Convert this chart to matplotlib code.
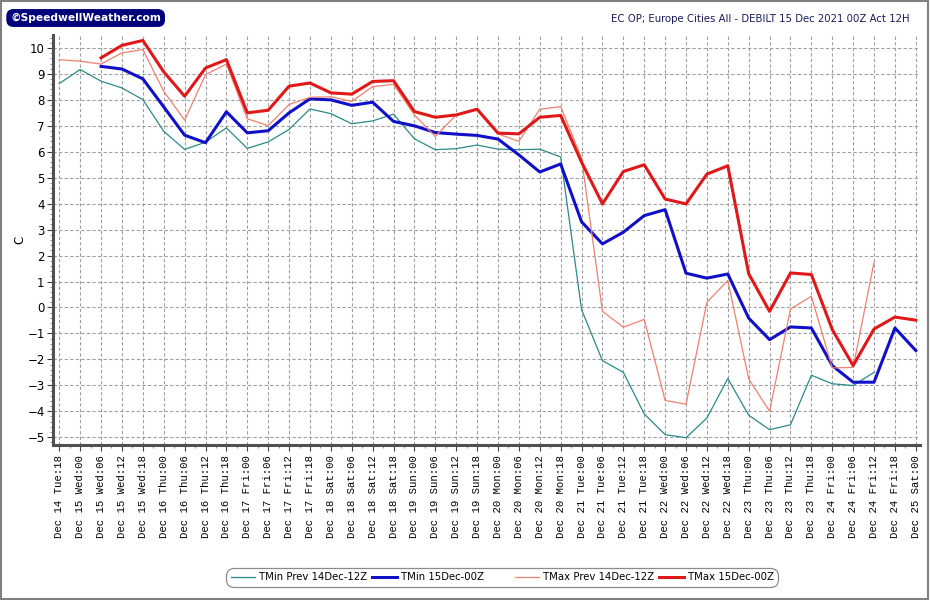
import matplotlib

matplotlib.use("Agg")

import matplotlib.pyplot as plt
import numpy as np
from matplotlib.patches import Rectangle
from matplotlib.ticker import MultipleLocator

time_labels = [
    "Dec 14 Tue:18", "Dec 15 Wed:00", "Dec 15 Wed:06", "Dec 15 Wed:12", "Dec 15 Wed:18",
    "Dec 16 Thu:00", "Dec 16 Thu:06", "Dec 16 Thu:12", "Dec 16 Thu:18",
    "Dec 17 Fri:00", "Dec 17 Fri:06", "Dec 17 Fri:12", "Dec 17 Fri:18",
    "Dec 18 Sat:00", "Dec 18 Sat:06", "Dec 18 Sat:12", "Dec 18 Sat:18",
    "Dec 19 Sun:00", "Dec 19 Sun:06", "Dec 19 Sun:12", "Dec 19 Sun:18",
    "Dec 20 Mon:00", "Dec 20 Mon:06", "Dec 20 Mon:12", "Dec 20 Mon:18",
    "Dec 21 Tue:00", "Dec 21 Tue:06", "Dec 21 Tue:12", "Dec 21 Tue:18",
    "Dec 22 Wed:00", "Dec 22 Wed:06", "Dec 22 Wed:12", "Dec 22 Wed:18",
    "Dec 23 Thu:00", "Dec 23 Thu:06", "Dec 23 Thu:12", "Dec 23 Thu:18",
    "Dec 24 Fri:00", "Dec 24 Fri:06", "Dec 24 Fri:12", "Dec 24 Fri:18",
    "Dec 25 Sat:00",
]

# previous run: Dec 14 Tue:18 .. Dec 24 Fri:12
tmin_prev = [
    8.63, 9.17, 8.72, 8.46, 8.01, 6.79, 6.09, 6.37, 6.92, 6.13,
    6.38, 6.86, 7.65, 7.47, 7.08, 7.19, 7.45, 6.50, 6.08, 6.12,
    6.26, 6.10, 6.08, 6.10, 5.80, -0.08, -2.05, -2.50, -4.10, -4.90,
    -5.02, -4.26, -2.74, -4.15, -4.71, -4.52, -2.61, -2.94, -3.01, -2.50,
]
tmax_prev = [
    9.55, 9.49, 9.38, 9.81, 9.94, 8.33, 7.22, 8.97, 9.38, 7.27,
    7.01, 7.82, 8.10, 8.12, 7.94, 8.51, 8.60, 7.42, 6.59, 7.42,
    7.64, 6.69, 6.40, 7.64, 7.74, 5.75, -0.15, -0.76, -0.46, -3.58,
    -3.73, 0.20, 1.04, -2.75, -4.00, -0.06, 0.43, -2.33, -2.31, 1.74,
]
# current run: Dec 15 Wed:06 .. Dec 25 Sat:00
tmin_cur = [
    9.29, 9.19, 8.81, 7.73, 6.64, 6.35, 7.54, 6.73, 6.81, 7.50,
    8.04, 8.00, 7.79, 7.91, 7.17, 7.00, 6.74, 6.68, 6.63, 6.49,
    5.88, 5.22, 5.53, 3.30, 2.45, 2.90, 3.54, 3.77, 1.32, 1.13,
    1.29, -0.41, -1.24, -0.75, -0.79, -2.24, -2.88, -2.88, -0.79, -1.66,
]
tmax_cur = [
    9.62, 10.10, 10.29, 9.08, 8.14, 9.23, 9.55, 7.50, 7.60, 8.53,
    8.65, 8.27, 8.22, 8.71, 8.74, 7.55, 7.33, 7.42, 7.64, 6.72,
    6.69, 7.33, 7.40, 5.60, 3.99, 5.24, 5.50, 4.18, 3.99, 5.14,
    5.46, 1.30, -0.15, 1.33, 1.27, -0.85, -2.24, -0.83, -0.37, -0.49,
]

x = np.arange(len(time_labels))
x_prev = x[:len(tmin_prev)]
x_cur = x[len(x) - len(tmin_cur):]

fig = plt.figure(figsize=(9.3, 6.0), dpi=100)
ax = fig.add_axes([53 / 930, 1 - 445 / 600, (920 - 53) / 930, (445 - 35) / 600])

ax.plot(x_prev, tmin_prev, color="#2a8a8a", lw=0.9, label="TMin Prev 14Dec-12Z")
ax.plot(x_cur, tmin_cur, color="#1010c8", lw=2.2, label="TMin 15Dec-00Z        ")
ax.plot(x_prev, tmax_prev, color="#f08070", lw=0.9, label="TMax Prev 14Dec-12Z")
ax.plot(x_cur, tmax_cur, color="#e01818", lw=2.2, label="TMax 15Dec-00Z")

ax.set_xlim(-0.3, 41.2)
ax.set_ylim(-5.3, 10.5)
ax.set_xticks(x)
ax.set_xticklabels(time_labels, rotation=90, family="Liberation Mono", fontsize=7.7)
ax.set_yticks(np.arange(-5, 11))
ax.yaxis.set_minor_locator(MultipleLocator(0.2))
ax.xaxis.set_minor_locator(MultipleLocator(0.5))
ax.tick_params(axis="y", labelsize=8.5, length=4, color="#404040", pad=2)
ax.tick_params(axis="x", length=4, color="#404040", pad=3)
ax.tick_params(which="minor", length=2, color="#808080")
ax.grid(True, color="#a0a0a0", ls=(0, (3, 2)), lw=0.8)
ax.set_axisbelow(True)

for side in ("top", "right"):
    ax.spines[side].set_visible(False)
for side in ("left", "bottom"):
    ax.spines[side].set_color("#505050")
    ax.spines[side].set_linewidth(2.2)

fig.text(20 / 930, 1 - 240 / 600, "C", rotation=90, ha="center", va="center", fontsize=8.5)

fig.text(0.978, 0.968, "EC OP; Europe Cities All - DEBILT 15 Dec 2021 00Z Act 12H",
         ha="right", va="center", fontsize=7.3, color="#1a1a5a")
fig.text(0.011, 0.970, "\u00a9SpeedwellWeather.com", ha="left", va="center",
         fontsize=7.7, color="white", weight="bold",
         bbox=dict(boxstyle="round,pad=0.3,rounding_size=0.6", fc="#00007a", ec="#00007a"))

leg = fig.legend(loc="center", bbox_to_anchor=(0.54, 0.038), ncol=4, fontsize=7.3,
                 frameon=True, fancybox=True, handlelength=2.4, columnspacing=0.5,
                 handletextpad=0.4, borderpad=0.25)
leg.get_frame().set_edgecolor("#707070")
leg.get_frame().set_linewidth(0.9)
leg.get_frame().set_boxstyle("round", pad=0.2, rounding_size=0.8)

fig.patches.append(Rectangle((0.001, 0.001), 0.997, 0.997, transform=fig.transFigure,
                             fill=False, ec="#808080", lw=1.5))

fig.savefig("out.png", dpi=100)
